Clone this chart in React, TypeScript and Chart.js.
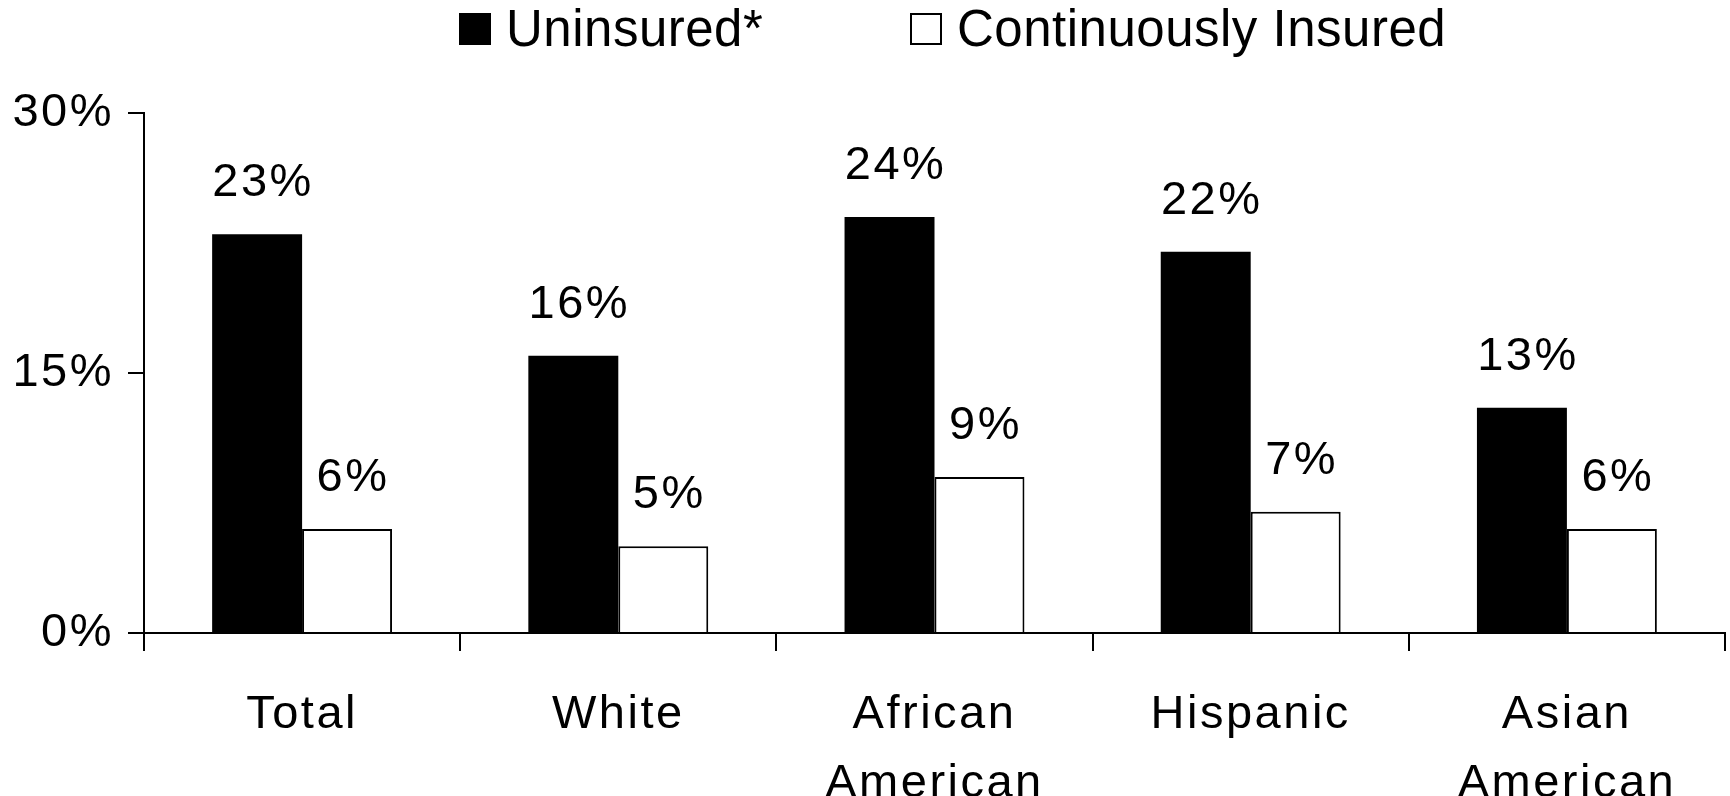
import React, { useEffect, useRef } from 'react';
import { Chart, registerables } from 'chart.js';

Chart.register(...registerables);

const categories: (string | string[])[] = ['Total', 'White', ['African', 'American'], 'Hispanic', ['Asian', 'American']];
const uninsured = [23, 16, 24, 22, 13];
const insured = [6, 5, 9, 7, 6];
const seriesNames = ['Uninsured*', 'Continuously Insured'];
const yTicks = [0, 15, 30];

const FONT = '"Liberation Sans", Arial, Helvetica, sans-serif';

const spacing = {
  id: 'spacing',
  beforeDraw(chart: any) {
    (chart.ctx as any).letterSpacing = '2.5px';
  },
  afterDraw(chart: any) {
    (chart.ctx as any).letterSpacing = '0px';
  },
};

const valueLabels = {
  id: 'valueLabels',
  afterDatasetsDraw(chart: any) {
    const ctx = chart.ctx;
    ctx.save();
    (ctx as any).letterSpacing = '2.5px';
    ctx.font = `47px ${FONT}`;
    ctx.fillStyle = '#000';
    ctx.textAlign = 'center';
    ctx.textBaseline = 'alphabetic';
    chart.data.datasets.forEach((ds: any, i: number) => {
      chart.getDatasetMeta(i).data.forEach((bar: any, j: number) => {
        ctx.fillText(ds.data[j] + '%', bar.x + 6, bar.y - 38);
      });
    });
    ctx.restore();
  },
};

const customLegend = {
  id: 'customLegend',
  afterDraw(chart: any) {
    const ctx = chart.ctx;
    ctx.save();
    (ctx as any).letterSpacing = '0.5px';
    ctx.font = `51px ${FONT}`;
    ctx.textAlign = 'left';
    ctx.textBaseline = 'alphabetic';
    const items = [
      { x: 459, fill: '#000', text: seriesNames[0] },
      { x: 910, fill: '#fff', text: seriesNames[1] },
    ];
    items.forEach((it) => {
      ctx.fillStyle = it.fill;
      ctx.fillRect(it.x, 13, 32, 32);
      ctx.strokeStyle = '#000';
      ctx.lineWidth = 2;
      ctx.strokeRect(it.x + 1, 14, 30, 30);
      ctx.fillStyle = '#000';
      ctx.fillText(it.text, it.x + 47, 46);
    });
    ctx.restore();
  },
};

export default function App() {
  const ref = useRef<HTMLCanvasElement | null>(null);

  useEffect(() => {
    if (!ref.current) return;
    const chart = new Chart(ref.current, {
      type: 'bar',
      data: {
        labels: categories as any,
        datasets: [
          {
            label: seriesNames[0],
            data: uninsured,
            backgroundColor: '#000',
            borderWidth: 0,
            categoryPercentage: 0.569,
            barPercentage: 1,
          },
          {
            label: seriesNames[1],
            data: insured,
            backgroundColor: '#fff',
            borderColor: '#000',
            borderWidth: 2,
            categoryPercentage: 0.569,
            barPercentage: 1,
          },
        ],
      },
      options: {
        responsive: false,
        animation: false,
        events: [],
        layout: { padding: { top: 113, right: 5, left: 0, bottom: 0 } },
        plugins: {
          legend: { display: false },
          tooltip: { enabled: false },
        },
        scales: {
          x: {
            grid: {
              display: true,
              offset: true,
              drawOnChartArea: false,
              drawTicks: true,
              tickLength: 18,
              color: '#000',
              lineWidth: 2,
            },
            border: { display: true, color: '#000', width: 2 },
            ticks: {
              color: '#000',
              font: { family: FONT, size: 47, lineHeight: 1.455 },
              padding: 30,
              maxRotation: 0,
              autoSkip: false,
            },
            afterFit: (s: any) => {
              s.height = 796 - 633;
            },
          },
          y: {
            min: 0,
            max: 30,
            afterBuildTicks: (s: any) => {
              s.ticks = yTicks.map((v) => ({ value: v }));
            },
            ticks: {
              color: '#000',
              font: { family: FONT, size: 47 },
              padding: 14,
              callback: (v: any) => v + '%',
            },
            grid: {
              display: true,
              drawOnChartArea: false,
              drawTicks: true,
              tickLength: 16,
              color: '#000',
              lineWidth: 2,
            },
            border: { display: true, color: '#000', width: 2 },
            afterFit: (s: any) => {
              s.width = 144;
            },
          },
        },
      },
      plugins: [spacing, valueLabels, customLegend],
    });
    return () => chart.destroy();
  }, []);

  return (
    <div style={{ position: 'absolute', left: 0, top: 0, width: 1730, height: 796, background: '#fff' }}>
      <canvas ref={ref} width={1730} height={796} style={{ display: 'block' }} />
    </div>
  );
}
